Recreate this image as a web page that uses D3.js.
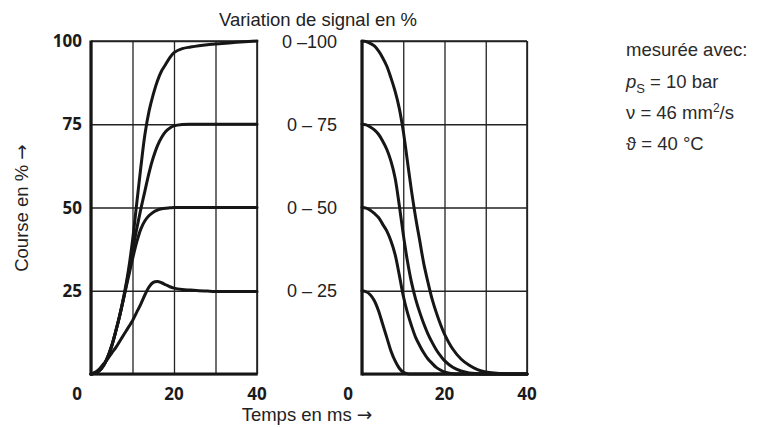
<!DOCTYPE html>
<html>
<head>
<meta charset="utf-8">
<script src="https://cdn.jsdelivr.net/npm/d3@7"></script>
<style>
  body { margin: 0; background: #fff; }
  svg { display: block; }
</style>
</head>
<body>
<div id="chart"></div>
<script>
// time axis (ms) shared by all curves
var times = [0,1,2,3,4,5,6,7,8,9,10,11,12,13,14,15,16,17,18,19,20,22,24,26,28,30,35,40];

// left panel: signal step up, stroke in %
var up100 = [0,0.3,1,2.5,5,8.5,13,18,24,31,40,51,62,72,79,84,88,91,93,95,96.5,97.7,98.2,98.6,98.9,99.1,99.6,100];
var up75  = [0,0.3,1,2.5,5,8.5,13,18,23.5,30,37,43.5,49.5,55,60.5,65,68.5,71,72.8,73.9,74.5,74.9,75,75,75,75,75,75];
var up50  = [0,0.3,1,2.5,5,8.5,13,18,23.5,29,34.5,39.5,43.5,46,47.6,48.6,49.2,49.6,49.8,49.9,50,50,50,50,50,50,50,50];
var up25  = [0,0.5,1.5,3,4.5,6.3,8,10,12,14,16,18.5,21,23.8,26.2,27.5,27.8,27.4,26.8,26.2,25.8,25.4,25.2,25,24.9,24.8,24.8,24.8];

// right panel: signal step down
var down100 = [100,99.8,99.3,98.5,97,95,92.5,89,85,80,73,64,55,47,40,33,27.5,22.5,18.5,15,12,7.5,4.5,2.6,1.3,0.6,0.05,0];
var down75  = [75,74.8,74.2,73.3,72,70,67.5,64,59,51,42,34,27.5,22.5,18.5,15,12,9.5,7.3,5.5,4,2,0.9,0.3,0.1,0,0,0];
var down50  = [50,49.8,49.2,48.2,47,45,43,40,36,30,23.5,18.5,14.5,11,8.5,6.3,4.5,3.2,2,1.2,0.6,0.1,0,0,0,0,0,0];
var down25  = [25,24.7,23.8,22,19,15,11,7,4,1.8,0.5,0.1,0,0,0,0,0,0,0,0,0,0,0,0,0,0,0,0];

// ticks and labels
var gridX = [0,10,20,30,40];
var gridY = [0,25,50,75,100];
var xTickLabels = [0,20,40];
var yTickLabels = [25,50,75,100];
var signalLabels = ["0 – 25","0 – 50","0 – 75","0 –100"];

var width = 757,
    height = 427;

var svg = d3.select("#chart").append("svg")
    .attr("width", width)
    .attr("height", height);

var top_ = 41, bottom = 374;

var y = d3.scaleLinear().domain([0, 100]).range([bottom, top_]);
var xL = d3.scaleLinear().domain([0, 40]).range([91, 257]);
var xR = d3.scaleLinear().domain([0, 40]).range([362, 527]);

var ink = "#161616";
var font = "'Liberation Sans', Arial, sans-serif";

function drawPanel(x, series) {
  var g = svg.append("g");

  // vertical grid
  g.append("g")
      .attr("transform", "translate(0," + bottom + ")")
      .call(d3.axisBottom(x).tickValues(gridX).tickSize(-(bottom - top_)).tickFormat(""));
  // horizontal grid
  g.append("g")
      .attr("transform", "translate(" + x.range()[0] + ",0)")
      .call(d3.axisLeft(y).tickValues(gridY).tickSize(-(x.range()[1] - x.range()[0])).tickFormat(""));
  g.selectAll(".domain").remove();
  g.selectAll(".tick line").attr("stroke", "#222").attr("stroke-width", 1.3);

  // top and right border
  g.append("line")
    .attr("x1", x(40)).attr("x2", x(40))
    .attr("y1", y(100)).attr("y2", y(0))
    .attr("stroke", "#222").attr("stroke-width", 1.6);
  g.append("line")
    .attr("x1", x(0)).attr("x2", x(40))
    .attr("y1", y(100)).attr("y2", y(100))
    .attr("stroke", "#222").attr("stroke-width", 1.6);

  var line = d3.line()
    .x(function(d, i) { return x(times[i]); })
    .y(function(d) { return y(d); })
    .curve(d3.curveCatmullRom.alpha(0.5));

  g.selectAll("path.curve")
    .data(series)
    .enter()
    .append("path")
      .attr("class", "curve")
      .attr("d", line)
      .attr("fill", "none")
      .attr("stroke", ink)
      .attr("stroke-width", 3)
      .attr("stroke-linejoin", "round")
      .attr("stroke-linecap", "round");

  // thick left and bottom axes
  g.append("line")
    .attr("x1", x(0)).attr("x2", x(0))
    .attr("y1", y(100) - 0.5).attr("y2", y(0) + 1.5)
    .attr("stroke", ink).attr("stroke-width", 3.2);
  g.append("line")
    .attr("x1", x(0)).attr("x2", x(40) + 0.8)
    .attr("y1", y(0)).attr("y2", y(0))
    .attr("stroke", ink).attr("stroke-width", 3.2);

  // x tick labels, the 0 sits left of the axis
  g.selectAll("text.xt")
    .data(xTickLabels)
    .enter()
    .append("text")
      .attr("class", "xt")
      .attr("x", function(d) { return d == 0 ? x(d) - 14 : x(d); })
      .attr("y", 400)
      .attr("text-anchor", "middle")
      .style("font-family", "'Open Sans', sans-serif")
      .style("font-weight", 700)
      .style("font-size", "17px")
      .attr("fill", "#1a1a1a")
      .text(function(d) { return d; });

  return g;
}

drawPanel(xL, [up100, up75, up50, up25]);
drawPanel(xR, [down100, down75, down50, down25]);

// left y labels (bold)
svg.selectAll("text.yt")
  .data(yTickLabels)
  .enter()
  .append("text")
    .attr("class", "yt")
    .attr("x", 82)
    .attr("y", function(d) { return y(d) + 6; })
    .attr("text-anchor", "end")
    .style("font-family", "'Open Sans', sans-serif")
    .style("font-weight", 700)
    .style("font-size", "17px")
    .attr("fill", "#1a1a1a")
    .text(function(d) { return d; });

// signal range labels between the panels
svg.selectAll("text.sig")
  .data(signalLabels)
  .enter()
  .append("text")
    .attr("class", "sig")
    .attr("x", 337)
    .attr("y", function(d, i) { return y(yTickLabels[i]) + 6.5; })
    .attr("text-anchor", "end")
    .style("font-family", font)
    .style("font-size", "18px")
    .attr("fill", "#222")
    .text(function(d) { return d; });

svg.append("text")
    .attr("x", 318)
    .attr("y", 26)
    .attr("text-anchor", "middle")
    .style("font-family", font)
    .style("font-size", "18.5px")
    .attr("fill", "#222")
    .text("Variation de signal en %");

// axis titles with a long arrow
function arrowLabel(sel, label) {
  sel.append("tspan").text(label + " ");
  sel.append("tspan").style("font-family", "'DejaVu Sans', sans-serif").text("→");
}

svg.append("text")
    .attr("x", 307)
    .attr("y", 421)
    .attr("text-anchor", "middle")
    .style("font-family", font)
    .style("font-size", "18.5px")
    .attr("fill", "#222")
    .call(arrowLabel, "Temps en ms");

svg.append("text")
    .attr("transform", "translate(28,208) rotate(-90)")
    .attr("text-anchor", "middle")
    .style("font-family", font)
    .style("font-size", "18.5px")
    .attr("fill", "#222")
    .call(arrowLabel, "Course en %");

// measuring conditions
var note = svg.append("g")
    .style("font-family", font)
    .style("font-size", "18.5px")
    .attr("fill", "#2a2a2a");

note.append("text").attr("x", 626).attr("y", 56).text("mesurée avec:");

var p = note.append("text").attr("x", 626).attr("y", 88);
p.append("tspan").style("font-style", "italic").text("p");
p.append("tspan").attr("dy", 5).style("font-size", "13px").text("S");
p.append("tspan").attr("dy", -5).text(" = 10 bar");

var nu = note.append("text").attr("x", 626).attr("y", 119);
nu.append("tspan").text("ν = 46 mm");
nu.append("tspan").attr("dy", -7).style("font-size", "12px").text("2");
nu.append("tspan").attr("dy", 7).text("/s");

note.append("text").attr("x", 626).attr("y", 150).text("ϑ = 40 °C");
</script>
</body>
</html>
